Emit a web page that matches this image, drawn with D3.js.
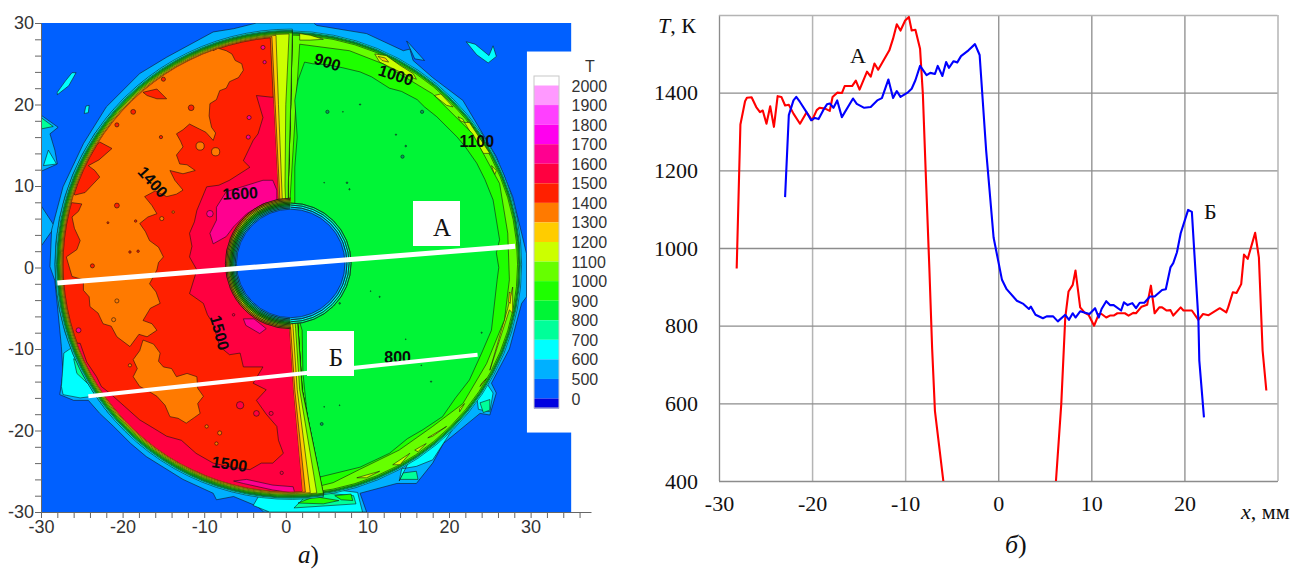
<!DOCTYPE html>
<html>
<head>
<meta charset="utf-8">
<script src="https://cdn.jsdelivr.net/npm/d3@7"></script>
<style>
  html, body { margin: 0; background: #fff; }
  svg { display: block; }
  .sans { font-family: "Liberation Sans", Arial, sans-serif; fill: #333; }
  .serif { font-family: "Liberation Serif", "Times New Roman", serif; fill: #111; }
</style>
</head>
<body>
<svg width="1295" height="569"></svg>
<script>
// legend
const legendLabels = ["2000","1900","1800","1700","1600","1500","1400","1300","1200","1100","1000","900","800","700","600","500","0"];
const legendColors = ["#ffffff","#ff99ff","#ff40ff","#ff00ee","#ff0090","#ff0040","#ff2000","#ff7a00","#ffcc00","#ccff00","#66ff00","#1eff00","#00f536","#00ff99","#00ffff","#00b0ff","#0060ff","#0000e0"];
const cBg = "#0060ff", cLb = "#00b0ff", cCy = "#00ffff", cAq = "#00ff99", cCore = "#00f536",
      c900 = "#1eff00", cLime = "#66ff00", cYel = "#ccff00", cAmb = "#ffcc00", cOr = "#ff7a00",
      cRed = "#ff2000", cCr = "#ff0040", cPk = "#ff0090";

// map contours, mm
const haloOuter = [[-28.9,0.1],[-28.3,-1.6],[-27.9,-5.6],[-27.5,-9.7],[-27.3,-13],[-27.7,-15.6],[-26,-16.3],[-24.2,-16.3],[-22.8,-17.9],[-21.1,-19.5],[-19,-21.6],[-17.1,-23.2],[-12.6,-26],[-8.9,-27.7],[-8.5,-28.5],[-6.4,-28.1],[-3.5,-29.3],[-2.7,-30],[9.9,-30],[9.1,-27.7],[13.6,-26.5],[16,-26.5],[18,-24],[19.3,-21.6],[23.8,-17.9],[25,-18.1],[25.8,-15.4],[25.2,-14.2],[27.4,-10],[28.9,-4.4],[29.5,-3.6],[29.5,1.7],[28.9,4.2],[27.8,8.7],[25.8,13.6],[21.7,20.5],[18,23.3],[15.6,25.4],[15.2,26.8],[14.4,26.6],[9.9,28.7],[3.8,29.7],[3.4,30],[-3.6,30],[-6.4,29.3],[-8.9,28.9],[-14.6,25.8],[-17.9,23.8],[-22,19.7],[-24.8,15.2],[-27.3,9.9],[-28.7,4.6]];
const cyanPatches = [
  [[-27.2,-10.5],[-27.5,-14.6],[-27.3,-15.6],[-25.2,-16],[-23.6,-15.8],[-22,-15],[-25,-9]],
  [[13.9,-26.2],[14.2,-24.7],[16,-24.4],[18,-23.6],[19.3,-21.6],[21,-19],[16,-22]],
  [[23.4,-15.8],[23.6,-17.4],[25,-17.7],[25.4,-15.4],[24.6,-14.2]],
  [[-4,-29.2],[-2,-30],[9.4,-30],[8.8,-27.6],[4,-27],[-3,-27.5]]
];
const aquaPatches = [
  [[-26,-11.2],[-25.6,-13],[-24,-14.5],[-24.2,-12]],
  [[14,-26],[14.4,-25.2],[16,-25],[16.2,-26]],
  [[23.8,-16.6],[25,-16.2],[25,-17.5],[24.2,-17.8]],
  [[1,-29.5],[8.6,-29],[8.3,-28],[3,-27.5]]
];
const greenPatches = [
  [[1.5,-28.9],[4.6,-29],[6.5,-28.6],[3.5,-28.1]],
  [[6,-28],[8,-27.8],[8.2,-28.6],[6.8,-28.5]]
];
const islandsBlue = [
  [[-30,18.7],[-27.9,17.2],[-28.9,16.4],[-28.3,14.4],[-28,12.7],[-30,11.8]],
  [[-30,7.6],[-28.3,5],[-30,2.6]],
  [[14.8,27.8],[15.8,25.6],[17,25.4],[15.2,27.4]]
];
const islandsCyan = [
  [[-26.2,23.9],[-25.7,23.9],[-26.6,22.3],[-28,21.2],[-28,21.5],[-27,22.9]],
  [[-29.1,14.4],[-28.1,12.7],[-29.7,12.5]],
  [[22.1,27.7],[23.2,27.4],[24.9,26],[25.4,27.2],[25.8,25.9],[24.8,25.1],[23.4,26.1]],
  [[-24.5,19.8],[-24.1,19.9],[-24.2,19],[-24.7,18.9]]
];
const islandsAqua = [[[-30,18.4],[-28.5,17.3],[-30,17]]];

const zone900 = [[1.7,27.4],[7.8,26.6],[11.9,25],[18,21.3],[22.9,16.4],[26.2,10.3],[27.2,4.2],[27.4,-1.5],[26.8,-6.4],[24.6,-11.8],[21.7,-16.7],[18,-19.5],[13.9,-22.4],[9,-24.8],[5.8,-26.4],[3.8,-26.9],[1.7,-27],[0,0]];
const zone800 = [[2.3,25.2],[3.3,25],[5,24.9],[7,24.5],[9.1,24],[10.5,23.4],[12.7,22],[14.2,21.6],[16.1,20.6],[17,19.7],[18.5,18.5],[21,16],[22,14.8],[23.4,12.8],[24.4,10.8],[25.4,8.3],[26.2,3.4],[25.8,1.8],[26.1,0],[25.9,-1.5],[25.2,-7.7],[24,-10.5],[22.5,-13.8],[20.8,-16],[19.2,-18.3],[16.8,-19.9],[14.9,-21],[12.7,-22.8],[9.1,-24.5],[4.2,-25.7],[3.6,-24.5],[3,-21],[2.6,-17.9],[2.1,-12.9],[2,-7.7],[1.5,-6],[1.1,6],[1.1,12.3],[1.4,16],[1.1,20.5],[1.5,23]];
const yellowStreaks = [
  [[1.7,28.7],[3,28.5],[4.6,28],[3,27.9],[1.7,27.9]],
  [[10.9,26.2],[12.3,26],[14,24.8],[15.6,23.8],[16,23.1],[14.8,23.6],[11.5,25.2]],
  [[18.2,21.1],[19,21.3],[20.5,19.7],[19.7,19.9]],
  [[21.1,18.5],[21.7,18.2],[21.9,17.8],[21.4,18]],
  [[21.9,17.8],[22.5,17.8],[25,14],[24.2,14]],
  [[25.2,12.5],[25.8,11.9],[25.6,11.4]],
  [[8.7,-25.8],[11.5,-25],[9.9,-25.8]],
  [[13.1,-24.2],[15.2,-22.8],[14,-24.2]],
  [[15.8,-22.4],[17.2,-21.6],[16.2,-22.6]],
  [[17.4,-20.9],[19.7,-19.5],[18,-20.7]],
  [[21.3,-17.3],[21.9,-16.7],[21.3,-17.7]],
  [[23.8,-14.6],[24.6,-13.6],[24,-14.2]],
  [[25,-12.6],[27.4,-5.2],[27.8,-5.6],[27.8,-2.4],[27.2,-5]]
];
const amberStreaks = [
  [[11.3,25.9],[12.2,25.7],[12.6,25.2],[11.8,25.4]],
  [[27.4,-3],[27.6,-3.2],[27.5,-4.4],[27.3,-4.2]]
];

// hot half: seam x at y nodes, first and last end on the rim
const seamY = [20, 10, 7.5, -7.5, -15];
const seamLime = [0.8, 0.6, 0.3, 0.3, 1.5, 2.0, 4.6];
const hotBands = [
  { color: cCy,   r: 28.85, seam: seamLime },
  { color: cAq,   r: 28.7,  seam: seamLime },
  { color: cCore, r: 28.6,  seam: seamLime },
  { color: c900,  r: 28.5,  seam: seamLime },
  { color: cLime, r: 28.38, seam: seamLime },
  { color: cYel,  r: 28.26, seam: [0.4, 0.0, -0.1, 0.0, 1.2, 1.7, 3.8] },
  { color: cAmb,  r: 28.14, seam: [-1.2, -0.9, -0.5, -0.4, 0.9, 1.4, 3.0] },
  { color: cOr,   r: 28.02, seam: [-1.7, -1.3, -0.8, -0.7, 0.6, 1.1, 2.4] }
];
const hotBase = { color: cRed, r: 27.9, seam: [-1.9, -1.5, -1.0, -0.9, 0.4, 0.9, 2.0] };

const zoneOrange = [[-9.7,28.2],[-9.2,27.2],[-8.9,26.6],[-8.3,26.9],[-7.3,26.6],[-6.6,26.2],[-6.2,25.4],[-5.4,25],[-5.2,24.2],[-5.8,23.3],[-6.9,22.8],[-7.3,22],[-8.1,21.7],[-8.5,20.6],[-9.3,20.1],[-9.4,18.6],[-9.1,17.2],[-8.6,16.5],[-8.9,15.6],[-9.8,16.6],[-10.6,17],[-11.8,17.6],[-12.6,16.9],[-13.4,16.4],[-12.9,15.5],[-12.6,14.8],[-13.4,13.8],[-13,12.7],[-12.1,12.6],[-11.1,11.9],[-12.6,11.5],[-14.2,11.9],[-13.6,10.7],[-12.6,9.5],[-13.4,9],[-14.6,8.7],[-16,9.4],[-17.3,8.7],[-16.4,7.6],[-15.8,6.6],[-16.9,6.2],[-17.9,5.4],[-17.2,4.4],[-16.7,3.3],[-15.6,2.5],[-15,1.3],[-15.6,0.6],[-15.8,-0.3],[-16.7,-2],[-15.9,-3],[-15.4,-4.4],[-16.6,-5],[-17.5,-6.5],[-16.4,-6.9],[-15.8,-7.7],[-17,-8.5],[-18,-8.2],[-19.1,-9.7],[-20.7,-8.5],[-21.4,-7.2],[-22.4,-6.9],[-23,-5.6],[-24,-4.8],[-24.1,-3.6],[-24.8,-2.8],[-24.8,-1.5],[-26.2,-1.1],[-26.9,1.3],[-25.6,2.2],[-25.2,3.3],[-25.9,4.8],[-26.2,6.2],[-25.4,6.9],[-25,7.8],[-28.1,8.2],[-26.7,9.3],[-25.8,8.9],[-24.6,9.2],[-22.8,11.1],[-23.4,11.9],[-24.2,12.5],[-22.9,13.2],[-21.3,14.6],[-22.8,15.4],[-25.2,13.6],[-23.2,19.3],[-17.5,25.4]];
const zoneOrange2 = [[-18.7,-11.3],[-17.9,-10.2],[-17.5,-8.9],[-16.2,-9.4],[-15.4,-10.5],[-15.6,-11.5],[-15,-12.2],[-14,-12.4],[-13.4,-13.4],[-12.1,-13],[-10.9,-13.4],[-10.8,-14.8],[-10.1,-15.8],[-10.8,-16.7],[-10.5,-17.9],[-11.2,-18.4],[-12.2,-19.1],[-13.2,-18.5],[-14.2,-18.3],[-14.8,-16.9],[-15.8,-15.8],[-17.1,-15],[-17.9,-14.6],[-18.7,-13.4],[-18.2,-12.4]];
const zoneRedPatch = [[-17.5,21.5],[-15.8,21.9],[-14.6,20.7],[-15.8,20.7],[-17,21.1]];
const zoneCrimson = [[-3.6,21.1],[-1.8,20.9],[5,21],[5,-30],[-10,-30],[-24,-22],[-28,-9.3],[-25.2,-9.3],[-24.4,-11.6],[-23.2,-13.4],[-22.6,-14.6],[-21.6,-15.4],[-19.8,-17],[-17.9,-18.7],[-16.4,-19.6],[-14.6,-20.7],[-12.8,-21.2],[-11,-22.8],[-8.9,-24],[-6.6,-24.5],[-4.4,-24.8],[-3,-24],[-1.6,-24],[-0.3,-22.8],[-0.9,-21.2],[-1.1,-19.5],[-2.4,-18],[-3.6,-16.3],[-2.4,-15],[-4,-14.2],[-2.8,-12.2],[-5.2,-12.2],[-5.6,-10.5],[-6.9,-10.7],[-8.1,-9.7],[-8.9,-6.9],[-9.6,-5.8],[-10.1,-4.4],[-11.8,-3.2],[-10.9,-0.3],[-11.8,1.3],[-11.5,2.6],[-11.8,4.2],[-11.2,5.6],[-10.9,7],[-9.7,9.9],[-8.2,10.1],[-6.9,10.7],[-4.4,12.3],[-5.2,13.1],[-4,15.6],[-3.4,16.4],[-2.8,18.4]];
const zonePink = [
  [[-1.6,10.7],[-2.8,10.7],[-7.3,9.3],[-8.5,7.4],[-8.5,5.8],[-9.3,4.2],[-8.9,2.9],[-7.3,3.8],[-6.4,5],[-4.8,6.6],[-2.8,7.8],[-1.1,8.2],[-1.1,9.5]],
  [[-5.2,-6.3],[-3.9,-6.3],[-2.4,-7.5],[-3.2,-8.1],[-4.9,-7.1]],
  [[-6.4,-26.2],[-4.8,-26],[-1.6,-26.7],[0.9,-26.9],[1.1,-27.7],[-1.6,-27.3],[-5.2,-26.5]]
];
// spots: x, y, radius
const spotsRed = [[-15,23.1,0.25],[-11.6,19.6,0.35],[-20.7,17.5,0.25],[-15.3,16,0.2],[-20.7,7.6,0.3],[-23.7,0.2,0.25],[-21.8,5.5,0.12],[-18.4,5.7,0.15],[-18.1,2,0.15],[-19.1,1.9,0.15],[-18.7,19.1,0.3]];
const spotsOrange = [[-10.5,14.9,0.5],[-8.6,14.2,0.5],[-15.2,6,0.25],[-13.8,6.8,0.15],[-20.7,-4.1,0.25],[-21.1,-6.4,0.25],[-19.1,-12,0.2],[-8.1,-20.3,0.25],[-8.5,-21.6,0.2],[-9.7,-19.5,0.2]];
const spotsCrimson = [[-6.4,-5.8,0.15],[-3.6,-17.9,0.35],[-1.8,-17.9,0.25],[-5.6,-16.9,0.45],[-0.5,-25.2,0.2]];
const spotsPink = [[-9.3,6.6,0.4],[-4.5,18.4,0.25],[-4.6,16,0.25],[-2.6,25.2,0.2],[-2.8,27,0.25],[-25.4,-7.7,0.3]];
const spotsGreen = [[5.1,19.1,0.2],[16.7,19.1,0.2],[14.3,13.6,0.2],[14.7,14.9,0.1],[9.1,20,0.08],[13.5,16.3,0.08],[7.5,10.4,0.1],[7.8,9.6,0.08],[4.7,10.4,0.05],[7,19.1,0.05],[10.4,-2.9,0.05],[11.5,-3.6,0.07],[6.6,-4.4,0.1],[24,-8,0.07],[14.7,-8.8,0.05],[17.8,-14,0.08],[6.6,-16.9,0.05],[4.7,-17.1,0.05],[4.4,-19.2,0.18],[16.6,-12,0.05]];

// full circles around the rim, mm
const rimLevels = [[cCy,28.6],[cAq,28.45],[cCore,28.35],[c900,28.25],[cLime,28.1]];
// rings around the bore: colour, radius
const boreLeft = [[cOr,8.0],[cAmb,7.85],[cYel,7.7],[cLime,7.55],[c900,7.4],[cCore,7.25],[cAq,7.1],[cCy,6.95],[cLb,6.8]];
const boreRight = [[cAq,7.4],[cCy,7.15],[cLb,6.9]];
const boreRadius = 6.65;
const rimCentre = [0.3, 0.4], hotCentre = [0.6, 0.4], boreCentre = [0.6, 0.5];

const mapLabels = [
  { text: "900", x: 5.1, y: 25.2, rot: 18 },
  { text: "1000", x: 13.5, y: 23.6, rot: 18 },
  { text: "1100", x: 23.4, y: 15.5, rot: 0 },
  { text: "1600", x: -5.6, y: 9.1, rot: -3 },
  { text: "1400", x: -16.3, y: 10.5, rot: 48 },
  { text: "1500", x: -8.1, y: -8.0, rot: 75 },
  { text: "1500", x: -6.9, y: -24.1, rot: 8 },
  { text: "800", x: 13.7, y: -11.0, rot: 0 }
];
// section lines, mm
const sectionA = [[-28.0,-1.9],[28.1,2.6]];
const sectionB = [[-24.2,-15.8],[23.5,-10.7]];

// profiles
const profileAx = [-28.1,-27.7,-27.2,-27,-26.5,-26,-25.6,-25.3,-24.9,-24.5,-24.1,-23.7,-23.3,-22.9,-22.5,-22,-21.3,-20.6,-20,-19.5,-19.2,-18.6,-18.1,-17.8,-17.3,-16.8,-16.5,-15.7,-15.3,-14.9,-14.1,-13.7,-13.3,-12.9,-11.7,-11.3,-10.9,-10.5,-10,-9.6,-9.3,-8.9,-8.4,-8.1,-7.8,-7.4,-7.1,-6.8,-6.4,-5.9];
const profileAT = [947,1318,1378,1387,1388,1363,1350,1354,1320,1365,1312,1391,1389,1367,1369,1346,1320,1349,1329,1355,1361,1359,1353,1389,1400,1399,1417,1417,1431,1408,1454,1441,1475,1459,1509,1539,1576,1560,1586,1595,1560,1562,1513,1397,1200,947,740,580,500,400];
const profileA2x = [6.2,6.77,7.2,7.55,8,8.3,8.8,9.3,9.7,10.3,10.8,11.1,11.6,12,12.4,12.8,13.6,14,14.5,14.8,15.4,16,16.4,16.8,17.3,17.6,18.1,18.5,18.8,19.6,19.9,20.8,21.5,22,22.6,23.8,24.5,24.7,25.2,25.6,26.1,26.4,26.8,27.6,28,28.4,28.8];
const profileA2T = [400,598,821,888,905,942,847,833,828,800,830,830,821,826,826,832,832,826,833,832,849,854,903,832,847,847,839,840,826,847,839,839,815,830,827,845,834,847,886,884,907,983,972,1039,976,736,633];
const profileBx = [-22.9,-22.5,-22,-21.7,-21.3,-20.6,-20.1,-19.7,-19.3,-18.8,-18.4,-18.1,-17.7,-17.3,-16.8,-15.6,-15.2,-14.4,-13.7,-13,-12.5,-11.8,-11.3,-10.9,-10.5,-9.7,-9.3,-8.9,-8.4,-7.7,-7.3,-6.8,-6.5,-6,-5.6,-5.3,-4.8,-4.4,-4,-3.2,-2.5,-2,-1.3,-0.5,0.4,0.9,2,2.7,3.3,3.5,4,4.8,5.2,5.9,6.4,7.2,7.6,8,8.3,8.8,9.8,10.4,10.8,11.1,11.6,12,12.4,13.2,13.5,13.9,14.4,14.8,15.2,15.7,16.3,16.8,17.6,18,18.5,18.8,19.2,19.6,20.4,20.8,21.5,21.6,22.1];
const profileBT = [1131,1342,1380,1389,1376,1350,1329,1335,1332,1355,1370,1372,1361,1380,1337,1385,1371,1361,1363,1380,1386,1434,1386,1404,1389,1401,1410,1432,1469,1445,1451,1448,1469,1443,1479,1464,1481,1478,1494,1509,1525,1497,1251,1027,918,894,864,856,843,849,828,819,824,824,811,828,815,832,821,837,830,845,821,843,863,853,853,839,860,853,858,845,859,859,875,875,892,894,950,961,989,1038,1098,1093,817,710,564];
const xTicksRight = [-30,-20,-10,0,10,20,30];
const yTicksRight = [400,600,800,1000,1200,1400,1600];

const svg = d3.select("svg");

// ---------- left panel ----------
const xMap = d3.scaleLinear().domain([-30, 37.4]).range([41, 591]);
const yMap = d3.scaleLinear().domain([-30, 30]).range([512, 23]);
const mm = d3.scaleLinear().domain([0, 1]).range([0, xMap(1) - xMap(0)]);
const poly = d3.line().x(d => xMap(d[0])).y(d => yMap(d[1])).curve(d3.curveLinearClosed);

const defs = svg.append("defs");
defs.append("clipPath").attr("id", "plot-clip").append("rect")
  .attr("x", xMap(-30)).attr("y", yMap(30))
  .attr("width", xMap(35) - xMap(-30)).attr("height", yMap(-30) - yMap(30));

function hotShape(b) {
  const [cx, cy] = hotCentre;
  const top = cy + Math.sqrt(b.r * b.r - (b.seam[0] - cx) ** 2);
  const last = b.seam[b.seam.length - 1];
  const bottom = cy - Math.sqrt(b.r * b.r - (last - cx) ** 2);
  const ys = [top, ...seamY, bottom];
  const pts = b.seam.map((x, i) => [x, ys[i]]);
  const a0 = Math.atan2(bottom - cy, last - cx);
  const a1 = Math.atan2(top - cy, b.seam[0] - cx) - 2 * Math.PI;
  d3.range(0.02, 1, 0.02).forEach(t => {
    const a = a0 + (a1 - a0) * t;
    pts.push([cx + b.r * Math.cos(a), cy + b.r * Math.sin(a)]);
  });
  return pts;
}
defs.append("clipPath").attr("id", "hot-clip").append("path").attr("d", poly(hotShape(hotBase)));

const stroke = sel => sel.attr("stroke", "#101010").attr("stroke-width", 0.7).attr("stroke-opacity", 0.8);
const map = svg.append("g").attr("clip-path", "url(#plot-clip)");

map.append("rect").attr("x", xMap(-30)).attr("y", yMap(30))
  .attr("width", xMap(35) - xMap(-30)).attr("height", yMap(-30) - yMap(30)).attr("fill", cBg);

function addPolys(g, list, color) {
  g.selectAll(null).data(list).join("path").attr("d", poly).attr("fill", color).call(stroke);
}
function addSpots(g, list, color) {
  g.selectAll(null).data(list).join("circle")
    .attr("cx", d => xMap(d[0])).attr("cy", d => yMap(d[1])).attr("r", d => mm(d[2]))
    .attr("fill", color).call(stroke);
}

addPolys(map.append("g"), islandsBlue, cLb);
addPolys(map.append("g"), islandsCyan, cCy);
addPolys(map.append("g"), islandsAqua, cAq);
addPolys(map.append("g"), [haloOuter], cLb);
addPolys(map.append("g"), cyanPatches, cCy);
addPolys(map.append("g"), aquaPatches, cAq);
addPolys(map.append("g"), greenPatches, c900);

map.append("g").selectAll("circle").data(rimLevels).join("circle")
  .attr("cx", xMap(rimCentre[0])).attr("cy", yMap(rimCentre[1])).attr("r", d => mm(d[1]))
  .attr("fill", d => d[0]).call(stroke);

addPolys(map.append("g"), yellowStreaks, cYel);
addPolys(map.append("g"), amberStreaks, cAmb);
addPolys(map.append("g"), [zone900], c900);
addPolys(map.append("g"), [zone800], cCore);
addSpots(map.append("g"), spotsGreen, "#00a060");

map.append("g").selectAll("path").data(hotBands).join("path")
  .attr("d", d => poly(hotShape(d))).attr("fill", d => d.color).call(stroke);
map.append("path").attr("d", poly(hotShape(hotBase))).attr("fill", hotBase.color).call(stroke);

const hot = map.append("g").attr("clip-path", "url(#hot-clip)");
addPolys(hot.append("g"), [zoneCrimson], cCr);
addPolys(hot.append("g"), [zoneOrange, zoneOrange2], cOr);
addPolys(hot.append("g"), [zoneRedPatch], cRed);
addPolys(hot.append("g"), zonePink, cPk);
addSpots(hot.append("g"), spotsRed, cRed);
addSpots(hot.append("g"), spotsOrange, cOr);
addSpots(hot.append("g"), spotsCrimson, cCr);
addSpots(hot.append("g"), spotsPink, cPk);

// bore rings, half pies from big to small, contour only on the curved edge
const arc = d3.arc();
const bore = map.append("g").attr("transform", `translate(${xMap(boreCentre[0])},${yMap(boreCentre[1])})`);
const halves = [
  { rings: boreLeft, startAngle: -Math.PI, endAngle: 0 },
  { rings: boreRight, startAngle: 0, endAngle: Math.PI }
];
halves.forEach(h => {
  h.rings.forEach(d => {
    const r = mm(d[1]);
    bore.append("path").attr("fill", d[0])
      .attr("d", arc({ startAngle: h.startAngle, endAngle: h.endAngle, innerRadius: 0, outerRadius: r }));
    bore.append("path").attr("fill", "none").call(stroke)
      .attr("d", arc({ startAngle: h.startAngle, endAngle: h.endAngle, innerRadius: r, outerRadius: r }));
  });
});
bore.append("circle").attr("r", mm(boreRadius)).attr("fill", cBg).call(stroke);

// white panel over the field, then legend
svg.append("rect").attr("x", xMap(29.55)).attr("y", yMap(26.5))
  .attr("width", 80).attr("height", yMap(-20.25) - yMap(26.5)).attr("fill", "#fff");

const legendY = d3.scaleLinear().domain([0, 16]).range([85.5, 398.5]);
const legend = svg.append("g");
legend.selectAll("rect").data(legendColors).join("rect")
  .attr("x", 534).attr("width", 25)
  .attr("y", (d, i) => i === 0 ? 76 : legendY(i - 1))
  .attr("height", (d, i) => i === 0 ? legendY(0) - 76 : i === 17 ? 10 : legendY(1) - legendY(0))
  .attr("fill", d => d);
legend.append("rect").attr("x", 534).attr("y", 76).attr("width", 25).attr("height", 332)
  .attr("fill", "none").attr("stroke", "#c8c8c8").attr("stroke-width", 1);
legend.selectAll("text").data(legendLabels).join("text").attr("class", "sans")
  .attr("x", 571.5).attr("y", (d, i) => legendY(i) + 6)
  .attr("font-size", 16).text(d => d);
legend.append("text").attr("class", "sans").attr("x", 590).attr("y", 72)
  .attr("text-anchor", "middle").attr("font-size", 16).text("T");

// contour labels
svg.append("g").selectAll("text").data(mapLabels).join("text")
  .attr("transform", d => `translate(${xMap(d.x)},${yMap(d.y)}) rotate(${d.rot})`)
  .attr("text-anchor", "middle").attr("dy", "0.35em")
  .attr("font-family", "Liberation Sans, Arial, sans-serif").attr("font-weight", "bold")
  .attr("font-size", 16).attr("fill", "#0a0a0a").text(d => d.text);

// sections
[sectionA, sectionB].forEach((s, i) => {
  svg.append("path").attr("d", d3.line().x(d => xMap(d[0])).y(d => yMap(d[1]))(s))
    .attr("stroke", "#fff").attr("stroke-width", i ? 4 : 5).attr("fill", "none");
});
const sectionBoxes = [{ t: "А", x: 413, y: 201 }, { t: "Б", x: 307, y: 331 }];
svg.append("g").selectAll("rect").data(sectionBoxes).join("rect")
  .attr("x", d => d.x).attr("y", d => d.y).attr("width", 47).attr("height", 45).attr("fill", "#fff");
svg.append("g").selectAll("text").data(sectionBoxes).join("text").attr("class", "serif")
  .attr("x", d => d.x + 29).attr("y", d => d.y + 35).attr("text-anchor", "middle")
  .attr("font-size", 25).text(d => d.t);

// map axes
const tenOnly = d => (d % 10 === 0 ? String(d) : "");
const xMapAxis = svg.append("g").attr("transform", `translate(0,${yMap(-30)})`)
  .call(d3.axisBottom(xMap).tickValues(d3.range(-30, 37, 2)).tickFormat(tenOnly).tickSize(6).tickSizeOuter(0).tickPadding(2));
const yMapAxis = svg.append("g").attr("transform", `translate(${xMap(-30)},0)`)
  .call(d3.axisLeft(yMap).tickValues(d3.range(-30, 31, 2)).tickFormat(tenOnly).tickSize(6).tickSizeOuter(0).tickPadding(1));
[xMapAxis, yMapAxis].forEach(a => {
  a.selectAll("path,line").attr("stroke", "#666");
  a.selectAll("text").attr("class", "sans").attr("font-size", 18);
});

svg.append("text").attr("class", "serif").attr("x", 298).attr("y", 563).attr("font-size", 25)
  .html('<tspan font-style="italic">а</tspan>)');

// ---------- right panel ----------
const xT = d3.scaleLinear().domain([-30, 30]).range([719, 1277.5]);
const yT = d3.scaleLinear().domain([400, 1600]).range([481, 15]);

const xTAxis = svg.append("g").attr("transform", `translate(0,${yT(400)})`)
  .call(d3.axisBottom(xT).tickValues(xTicksRight).tickFormat(d => d === 30 ? "" : String(d))
    .tickSize(-(yT(400) - yT(1600))).tickSizeOuter(0).tickPadding(22));
const yTAxis = svg.append("g").attr("transform", `translate(${xT(-30)},0)`)
  .call(d3.axisLeft(yT).tickValues(yTicksRight).tickFormat(d => d === 1600 ? "" : String(d))
    .tickSize(-(xT(30) - xT(-30))).tickSizeOuter(0).tickPadding(21));
[xTAxis, yTAxis].forEach(a => {
  a.select(".domain").attr("stroke", "#8c8c8c");
  a.selectAll("line").attr("stroke", "#8c8c8c").attr("stroke-width", 1.3);
  a.selectAll("text").attr("class", "serif").attr("font-size", 22);
});
xTAxis.selectAll("text").attr("dy", "0.35em");
// the left gridlines and frame read paler in the reference
xTAxis.selectAll("line").filter(d => d < 0 || d === 30)
  .attr("stroke", "#b4b4b4").attr("stroke-width", 1.5);
yTAxis.selectAll("line").filter(d => d === 1600)
  .attr("stroke", "#b4b4b4").attr("stroke-width", 1.5);

const profileLine = d3.line().x(d => xT(d[0])).y(d => yT(d[1]));
const zipXY = (xs, ys) => xs.map((x, i) => [x, ys[i]]);
const profiles = [
  { pts: zipXY(profileAx, profileAT), color: "#ff0000" },
  { pts: zipXY(profileA2x, profileA2T), color: "#ff0000" },
  { pts: zipXY(profileBx, profileBT), color: "#0000ff" }
];
svg.append("g").selectAll("path").data(profiles).join("path")
  .attr("d", d => profileLine(d.pts)).attr("fill", "none")
  .attr("stroke", d => d.color).attr("stroke-width", 2.1).attr("stroke-linejoin", "round");

const serifText = (x, y, size, html) => svg.append("text").attr("class", "serif")
  .attr("x", x).attr("y", y).attr("font-size", size).html(html);
serifText(658, 33, 22, '<tspan font-style="italic">T</tspan>, К');
serifText(850, 63, 22, "А");
serifText(1204, 219, 22, "Б");
serifText(1241, 519, 22, '<tspan font-style="italic">x</tspan>, мм');
serifText(1005, 553, 26, '<tspan font-style="italic">б</tspan>)');
</script>
</body>
</html>
